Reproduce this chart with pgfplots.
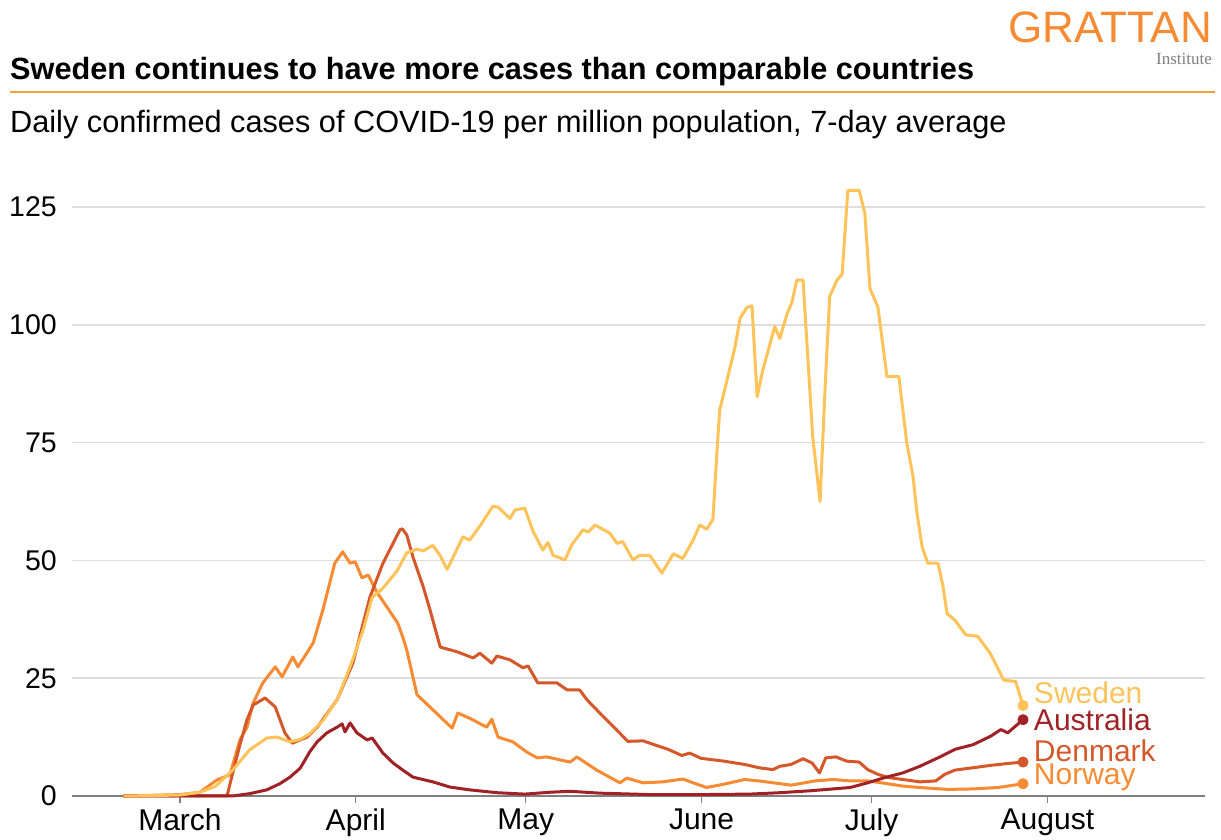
\documentclass[border=0pt]{standalone}
\usepackage{fontspec}
\setmainfont{Liberation Sans}
\newfontfamily\serifinst{Liberation Serif}
\usepackage{pgfplots}
\pgfplotsset{compat=1.18}
\definecolor{swe}{HTML}{FFC35A}
\definecolor{nor}{HTML}{F68B33}
\definecolor{den}{HTML}{D4582A}
\definecolor{aus}{HTML}{A02226}
\definecolor{rulecol}{HTML}{F0A23C}
\definecolor{gridcol}{HTML}{DEDEDE}
\definecolor{axcol}{HTML}{808080}
\begin{document}
\begin{tikzpicture}[x=1pt,y=1pt]
\begin{axis}[
  scale only axis, width=1133, height=622,
  xmin=-19.05, xmax=180.8, ymin=0, ymax=132,
  axis x line*=bottom, axis y line*=left,
  y axis line style={draw=none},
  x axis line style={draw=axcol, line width=2pt},
  xtick={0,31,61,92,122,153},
  xticklabels={March,April,May,June,July,August},
  ytick={0,25,50,75,100,125},
  ymajorgrids, grid style={draw=gridcol, line width=1.5pt},
  tick align=outside,
  major tick length=7pt,
  xtick style={draw=axcol, line width=1.2pt},
  ytick style={draw=none},
  /pgf/number format/assume math mode=true,
  xticklabel style={font=\fontsize{30}{32}\selectfont, anchor=north, inner sep=0pt, yshift=-6pt},
  yticklabel style={font=\fontsize{28.5}{30}\selectfont, anchor=east, inner sep=0pt, xshift=-8pt},
  every axis plot/.append style={line width=3pt, line join=round},
  clip=false,
]
\coordinate (O) at (rel axis cs:0,0);
% Norway
\addplot[nor, mark=none] coordinates {
(-10,0)(0,0.3)(3.5,0.8)(6.5,3.4)(8.8,4.5)(10.6,12)(11.8,14.5)(12.9,19.7)(14.6,24)(16.8,27.4)(18.0,25.3)(19.9,29.5)(20.8,27.4)(23.5,32.5)(25.2,39.5)(27.3,49.4)(28.7,51.8)(30.0,49.4)(30.9,49.7)(32.1,46.3)(33.2,46.9)(34.7,43.3)(36.5,40.1)(38.4,36.7)(39.3,33.7)(40.0,31)(41.8,21.5)(44.6,18.3)(48.0,14.4)(49.0,17.6)(51.1,16.5)(54.1,14.6)(55.0,16.3)(56.1,12.5)(58.7,11.5)(61.2,9.3)(63.0,8.1)(64.7,8.3)(68.8,7.2)(70.0,8.3)(73.5,5.5)(77.6,2.8)(78.8,3.8)(81.7,2.8)(85.2,3.0)(88.7,3.6)(90.5,2.8)(92.9,1.8)(95.9,2.5)(99.6,3.5)(102.1,3.2)(107.8,2.3)(112.0,3.2)(115.2,3.5)(118.2,3.2)(121.3,3.2)(124.3,2.7)(127.5,2.1)(130.5,1.8)(135.4,1.4)(139.9,1.5)(144.3,1.8)(148.7,2.6)
};
% Denmark
\addplot[den, mark=none] coordinates {
(-10,0)(8.3,0)(9.3,4.9)(10.6,11)(11.8,16.1)(12.9,19.3)(15.0,20.8)(16.8,18.9)(18.5,13.4)(19.8,11.2)(22.4,12.5)(24.2,14.6)(27.7,20.4)(30.5,28.2)(33.5,42.2)(35.8,49.4)(38.8,56.5)(39.2,56.7)(40.0,55.4)(41.1,50.7)(42.9,44.4)(44.1,39.5)(45.9,31.6)(48.9,30.6)(51.7,29.3)(52.9,30.3)(55.0,28.2)(55.9,29.7)(58.2,28.9)(60.5,27.2)(61.4,27.6)(63.1,24.0)(66.5,24.0)(68.3,22.5)(70.5,22.5)(71.8,20.4)(74.3,17.3)(76.7,14.4)(79.0,11.6)(81.7,11.7)(84.1,10.7)(86.1,9.9)(88.5,8.6)(89.9,9.1)(91.9,8.0)(95.9,7.4)(99.6,6.7)(102.1,6.0)(104.6,5.6)(105.8,6.3)(107.8,6.7)(109.9,7.9)(111.5,7.0)(112.8,4.9)(113.9,8.1)(115.7,8.3)(117.6,7.4)(119.8,7.2)(121.3,5.6)(123.1,4.6)(125.0,3.9)(127.5,3.5)(130.5,3.0)(133.3,3.2)(134.9,4.6)(136.7,5.5)(139.9,6.0)(143.0,6.5)(146.0,6.9)(148.7,7.2)
};
% Australia
\addplot[aus, mark=none] coordinates {
(-10,0)(9.3,0)(12.3,0.5)(15.3,1.3)(17.6,2.6)(19.4,4.0)(21.2,5.9)(22.9,9.4)(24.2,11.5)(25.9,13.4)(27.7,14.6)(28.6,15.3)(29.1,13.6)(30.0,15.5)(31.2,13.4)(33.0,11.9)(33.9,12.3)(35.8,9.1)(37.6,7.0)(39.3,5.5)(41.1,4.0)(44.6,3.0)(47.6,1.9)(51.1,1.3)(55.9,0.7)(60.8,0.4)(65.3,0.8)(68.8,1.0)(74.1,0.6)(82.9,0.3)(91.7,0.3)(100.5,0.4)(105.8,0.7)(111.1,1.1)(118.2,1.8)(121.3,2.8)(124.3,3.9)(127.5,4.9)(130.5,6.3)(133.7,8.1)(136.7,9.9)(139.9,10.9)(143.0,12.7)(144.8,14.1)(146.0,13.4)(148.7,16.2)
};
% Sweden
\addplot[swe, mark=none] coordinates {
(-10,0)(0,0.2)(3.5,0.8)(6.2,2)(9.3,5.5)(12.3,9.8)(15.3,12.3)(17.1,12.5)(19.4,11.5)(21.2,12)(22.9,13.2)(25.2,16)(27.7,20.4)(30.0,27.4)(32.3,35.2)(33.9,42.2)(35.8,44.1)(38.3,47.8)(40.0,51.6)(41.8,52.4)(42.9,52)(44.6,53.2)(45.9,51)(47.1,48.1)(48.1,50.5)(49.9,55)(51.1,54.3)(52.9,57.3)(55.2,61.5)(56.1,61.3)(58.2,58.9)(59.1,60.7)(60.8,61.1)(62.3,56.1)(64.0,52.2)(64.9,53.8)(65.8,51.1)(67.9,50.1)(69.1,53.3)(71.1,56.5)(72.0,56)(73.2,57.5)(75.8,55.8)(77.1,53.6)(78.1,54)(79.9,50.1)(81.1,51.1)(82.9,51)(85.0,47.3)(87.0,51.4)(88.7,50.4)(90.5,54.3)(91.7,57.5)(92.9,56.6)(94.0,58.7)(94.7,72.8)(95.2,81.9)(96.5,88.3)(97.9,95.3)(98.8,101.4)(100.0,103.7)(100.9,104)(101.8,84.7)(102.8,90.4)(104.9,99.6)(105.8,97.1)(107.1,102.4)(107.9,104.6)(108.8,109.5)(109.9,109.5)(111.6,76.3)(112.9,62.5)(113.8,86.9)(114.6,106)(115.9,109.5)(116.8,110.8)(117.8,128.5)(119.8,128.5)(120.8,123.7)(121.7,107.7)(123.1,103.8)(124.7,89)(126.8,89)(128.2,74.9)(129.3,67.8)(130.0,60)(130.9,52.9)(131.9,49.4)(133.7,49.4)(134.6,44.4)(135.3,38.7)(136.7,37.3)(138.6,34.2)(140.7,33.9)(142.9,30.3)(145.3,24.6)(147.4,24.3)(148.7,19.2)
};
% end dots
\addplot[swe, only marks, mark=*, mark size=4pt] coordinates {(148.7,19.2)};
\addplot[aus, only marks, mark=*, mark size=4pt] coordinates {(148.7,16.2)};
\addplot[den, only marks, mark=*, mark size=4pt] coordinates {(148.7,7.2)};
\addplot[nor, only marks, mark=*, mark size=4pt] coordinates {(148.7,2.6)};
\node[anchor=west, inner sep=0pt, text=swe, font=\fontsize{30}{32}\selectfont] at (axis cs:150.6,21.9) {Sweden};
\node[anchor=west, inner sep=0pt, text=aus, font=\fontsize{30}{32}\selectfont] at (axis cs:150.6,16.1) {Australia};
\node[anchor=west, inner sep=0pt, text=den, font=\fontsize{30}{32}\selectfont] at (axis cs:150.6,9.6) {Denmark};
\node[anchor=west, inner sep=0pt, text=nor, font=\fontsize{30}{32}\selectfont] at (axis cs:150.6,4.0) {Norway};
\end{axis}
\pgfresetboundingbox
\begin{scope}[shift={(O)}, shift={(-72,-44)}]
\path[use as bounding box] (0,0) rectangle (1221,840);
\node[anchor=base west, inner sep=0pt, font=\fontsize{30.7}{34}\selectfont\bfseries] at (10,760) {Sweden continues to have more cases than comparable countries};
\draw[rulecol, line width=2.5pt] (10,748) -- (1215,748);
\node[anchor=base west, inner sep=0pt, font=\fontsize{30.7}{34}\selectfont] at (10,707) {Daily confirmed cases of COVID-19 per million population, 7-day average};
\node[anchor=base east, inner sep=0pt, font=\fontsize{44}{48}\selectfont, text=nor] at (1212,797) {GRATTAN};
\node[anchor=base east, inner sep=0pt, font=\serifinst\fontsize{17}{20}\selectfont, text=gray] at (1212,775) {Institute};
\end{scope}
\end{tikzpicture}
\end{document}
